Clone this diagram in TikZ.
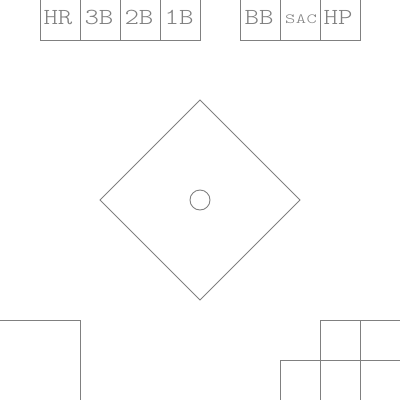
\documentclass[tikz,border=0pt]{standalone}
\usepackage{fontspec}
\setmonofont[FakeStretch=1.2]{Latin Modern Mono Light}
\newfontfamily\sacfont[FakeStretch=1.4,LetterSpace=3]{Latin Modern Mono Light}
\begin{document}
\begin{tikzpicture}[x=1pt,y=-1pt,
  ln/.style={draw=gray, line width=0.9pt},
  lbl/.style={text=gray, font=\ttfamily\fontsize{23}{23}\selectfont, inner sep=0pt, anchor=base},
  sml/.style={text=gray, font=\sacfont\fontsize{14}{14}\selectfont, inner sep=0pt, anchor=base}]
\useasboundingbox (0,0) rectangle (400,400);
% top left boxes
\draw[ln] (40,-5) -- (40,40) -- (200,40) -- (200,-5);
\draw[ln] (80,-5) -- (80,40) (120,-5) -- (120,40) (160,-5) -- (160,40);
\draw[ln] (240,-5) -- (240,40) -- (360,40) -- (360,-5);
\draw[ln] (280,-5) -- (280,40) (320,-5) -- (320,40);
\node[lbl] (hr) at (58,24) {HR};
\node[lbl] (tb) at (99,24) {3B};
\node[lbl] (db) at (139,24) {2B};
\node[lbl] (sb) at (179,24) {1B};
\node[lbl] (bb) at (259,24) {BB};
\node[sml] (sac) at (301,23) {SAC};
\node[lbl] (hp) at (338,24) {HP};
% diamond
\draw[ln] (200,100) -- (300,200) -- (200,300) -- (100,200) -- cycle;
\draw[ln] (200,200) circle (10);
% bottom left
\draw[ln] (-5,320) -- (80,320) -- (80,405);
% bottom right
\draw[ln] (320,405) -- (320,320) -- (405,320);
\draw[ln] (360,320) -- (360,405);
\draw[ln] (280,405) -- (280,360) -- (405,360);
\end{tikzpicture}
\end{document}
